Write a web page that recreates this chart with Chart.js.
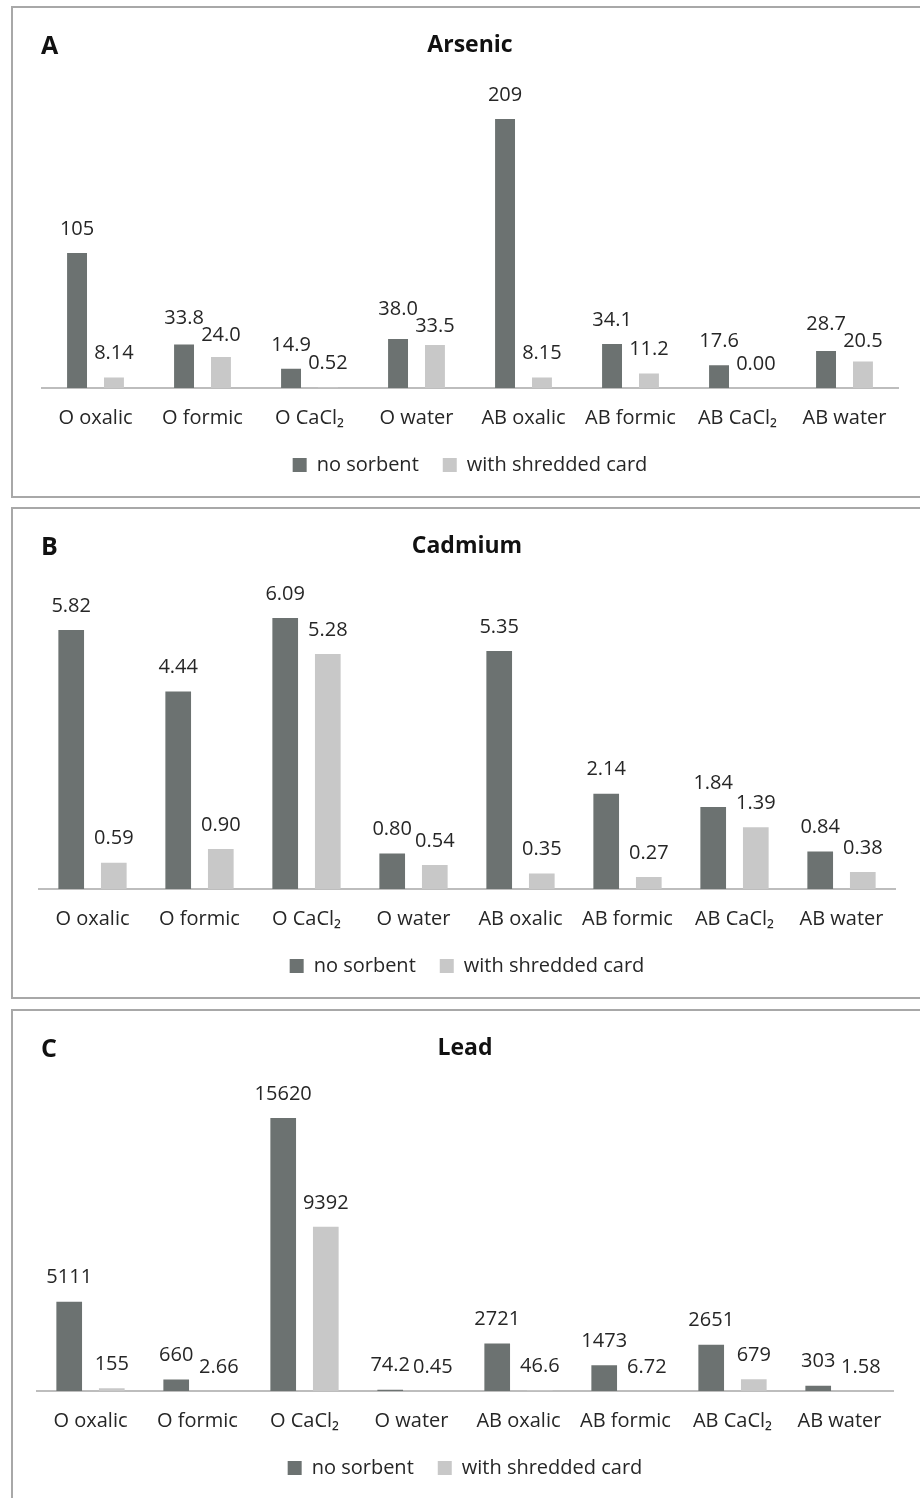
<!DOCTYPE html>
<html>
<head>
<meta charset="utf-8">
<script src="https://cdn.jsdelivr.net/npm/chart.js@4.4.1/dist/chart.umd.min.js"></script>
<style>
  html, body { margin: 0; padding: 0; background: #fff; }
  body { width: 920px; height: 1498px; position: relative; overflow: hidden; }
  .panel {
    position: absolute; left: 11px; width: 924px; height: 492px;
    box-sizing: border-box; border: 2px solid #a8a8a8; background: #fff;
  }
  .panel canvas { display: block; }
</style>
</head>
<body>
<div class="panel" style="top:6px"><canvas id="chartA" width="916" height="488"></canvas></div>
<div class="panel" style="top:507px"><canvas id="chartB" width="916" height="488"></canvas></div>
<div class="panel" style="top:1009px"><canvas id="chartC" width="916" height="488"></canvas></div>
<script>
// Leaching categories and extractants
const categories = ['O oxalic', 'O formic', 'O CaCl\u2082', 'O water', 'AB oxalic', 'AB formic', 'AB CaCl\u2082', 'AB water'];
const seriesNames = ['no sorbent', 'with shredded card'];

// Arsenic
const arsenicNoSorbent = [105, 33.8, 14.9, 38.0, 209, 34.1, 17.6, 28.7];
const arsenicCard      = [8.14, 24.0, 0.52, 33.5, 8.15, 11.2, 0.00, 20.5];

// Cadmium
const cadmiumNoSorbent = [5.82, 4.44, 6.09, 0.80, 5.35, 2.14, 1.84, 0.84];
const cadmiumCard      = [0.59, 0.90, 5.28, 0.54, 0.35, 0.27, 1.39, 0.38];

// Lead
const leadNoSorbent = [5111, 660, 15620, 74.2, 2721, 1473, 2651, 303];
const leadCard      = [155, 2.66, 9392, 0.45, 46.6, 6.72, 679, 1.58];

const DARK = '#6c7271';
const LIGHT = '#c8c8c8';
const TEXT = '#262626';
const FONT = '"Open Sans", "DejaVu Sans", sans-serif';

function formatValue(v) {
  if (v >= 100) return String(Math.round(v));
  if (v < 1) return v.toFixed(2);
  return v.toPrecision(3);
}

// Value labels above each bar; the two labels of a group are pushed apart when they collide
const valueLabels = {
  id: 'valueLabels',
  afterDatasetsDraw(chart) {
    const ctx = chart.ctx;
    ctx.save();
    ctx.font = '20px ' + FONT;
    ctx.fillStyle = TEXT;
    ctx.textAlign = 'center';
    ctx.textBaseline = 'middle';
    const metas = chart.data.datasets.map((d, i) => chart.getDatasetMeta(i));
    for (let j = 0; j < chart.data.labels.length; j++) {
      const items = metas.map((m, i) => {
        const bar = m.data[j];
        const text = formatValue(chart.data.datasets[i].data[j]);
        return { x: bar.x, y: bar.y - 24, text, w: ctx.measureText(text).width };
      });
      const [a, b] = items;
      if (Math.abs(a.x - b.x) < (a.w + b.w) / 2 && Math.abs(a.y - b.y) < 17) {
        const mid = (a.y + b.y) / 2;
        const up = a.y <= b.y ? a : b;
        const down = up === a ? b : a;
        up.y = mid - 8.5;
        down.y = mid + 8.5;
      }
      items.forEach(it => ctx.fillText(it.text, it.x, it.y));
    }
    ctx.restore();
  }
};

// Panel letter in the top-left corner
const panelLetter = {
  id: 'panelLetter',
  afterDraw(chart, args, opts) {
    const ctx = chart.ctx;
    ctx.save();
    ctx.font = 'bold 25px ' + FONT;
    ctx.fillStyle = '#111';
    ctx.textAlign = 'left';
    ctx.textBaseline = 'middle';
    ctx.fillText(opts.text, 28, opts.y);
    ctx.restore();
  }
};

function makeChart(id, letter, title, noSorbent, card, yMax, barOpts, pad) {
  return new Chart(document.getElementById(id), {
    type: 'bar',
    data: {
      labels: categories,
      datasets: [
        { label: seriesNames[0], data: noSorbent, backgroundColor: DARK, ...barOpts },
        { label: seriesNames[1], data: card, backgroundColor: LIGHT, ...barOpts }
      ]
    },
    options: {
      responsive: false,
      animation: false,
      devicePixelRatio: 1,
      layout: { padding: { top: 0, bottom: 11, left: pad.left, right: pad.right } },
      scales: {
        x: {
          offset: true,
          grid: { display: false, drawTicks: false },
          border: { display: true, color: '#bdbdbd', width: 2 },
          ticks: { color: TEXT, font: { family: FONT, size: 20 }, padding: 18, maxRotation: 0, autoSkip: false },
          afterFit(scale) { scale.height = 43; }
        },
        y: { display: false, min: 0, max: yMax }
      },
      plugins: {
        title: {
          display: true, text: title, color: '#111',
          font: { family: FONT, size: 23, weight: 'bold' },
          padding: { top: 24, bottom: 8 }
        },
        legend: {
          position: 'bottom',
          labels: { color: TEXT, font: { family: FONT, size: 20 }, boxWidth: 14, boxHeight: 14, padding: 24 }
        },
        tooltip: { enabled: false },
        panelLetter: { text: letter, y: 39 }
      }
    },
    plugins: [valueLabels, panelLetter]
  });
}

const narrowBars = { categoryPercentage: 0.69, barPercentage: 0.54 };
const wideBars = { categoryPercentage: 0.796, barPercentage: 0.603 };

makeChart('chartA', 'A', 'Arsenic', arsenicNoSorbent, arsenicCard, 249, narrowBars, { left: 29, right: 31 });
makeChart('chartB', 'B', 'Cadmium', cadmiumNoSorbent, cadmiumCard, 7.2, wideBars, { left: 26, right: 34 });
makeChart('chartC', 'C', 'Lead', leadNoSorbent, leadCard, 18330, wideBars, { left: 24, right: 36 });
</script>
</body>
</html>
